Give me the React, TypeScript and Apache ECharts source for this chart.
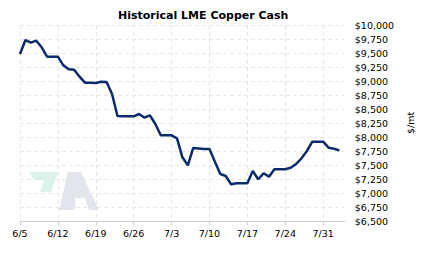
import React, { useEffect, useRef } from "react";
import * as echarts from "echarts";

const dates: string[] = [
  "6/5", "6/6", "6/7", "6/8", "6/9", "6/10", "6/11",
  "6/12", "6/13", "6/14", "6/15", "6/16", "6/17", "6/18",
  "6/19", "6/20", "6/21", "6/22", "6/23", "6/24", "6/25",
  "6/26", "6/27", "6/28", "6/29", "6/30", "7/1", "7/2",
  "7/3", "7/4", "7/5", "7/6", "7/7", "7/8", "7/9",
  "7/10", "7/11", "7/12", "7/13", "7/14", "7/15", "7/16",
  "7/17", "7/18", "7/19", "7/20", "7/21", "7/22", "7/23",
  "7/24", "7/25", "7/26", "7/27", "7/28", "7/29", "7/30",
  "7/31", "8/1", "8/2", "8/3", "8/4",
];

const cashPrice: (number | null)[] = [
  9480, 9732, 9684, 9720, 9602, 9434, 9434,
  9434, 9280, 9208, 9202, 9077, 8970, 8967,
  8964, 8988, 8982, 8768, 8375, 8372, 8371,
  8370, 8411, 8345, 8387, 8232, 8030, 8030,
  8030, 7976, 7637, 7495, 7804, 7795, 7786,
  7786, 7560, 7339, 7304, 7155, 7173, 7173,
  7173, 7393, 7245, 7352, 7292, 7423, 7423,
  7423, 7452, 7518, 7620, 7750, 7916, 7916,
  7916, 7809, 7791, 7762, null,
];

const yMin = 6500;
const yMax = 10000;
const yStep = 250;

const fmtUsd = (v: number) => "$" + v.toLocaleString("en-US");

export default function App() {
  const ref = useRef<HTMLDivElement>(null);
  useEffect(() => {
    if (!ref.current) return;
    const chart = echarts.init(ref.current, null, { renderer: "svg" });
    const font = "DejaVu Sans, Verdana, sans-serif";
    chart.setOption({
      animation: false,
      backgroundColor: "#ffffff",
      title: {
        text: "Historical LME Copper Cash",
        left: 113,
        top: 5,
        textStyle: { fontFamily: font, fontSize: 11, fontWeight: "bold", color: "#000" },
      },
      grid: { left: 20, right: 68, top: 25, bottom: 36, containLabel: false },
      graphic: [
        {
          type: "polygon",
          z: 0,
          silent: true,
          shape: { points: [[29, 172], [58, 172], [51, 192], [40, 192], [44, 180], [34, 180]] },
          style: { fill: "#d9f3ea" },
        },
        {
          type: "polygon",
          z: 0,
          silent: true,
          shape: { points: [[59, 210], [68, 172], [81, 172], [99, 210], [89, 210], [85, 198], [75, 198], [75, 210]] },
          style: { fill: "#e2e5eb" },
        },
      ],
      xAxis: {
        type: "category",
        data: dates,
        boundaryGap: false,
        axisLine: { show: true, lineStyle: { color: "#cccccc" } },
        axisTick: { show: true, interval: 6, length: 4, lineStyle: { color: "#cccccc" } },
        axisLabel: { interval: 6, margin: 7, fontFamily: font, fontSize: 9.5, color: "#000" },
        splitLine: { show: true, interval: 6, lineStyle: { color: "#e6e6e6", type: [4, 3] } },
      },
      yAxis: {
        type: "value",
        position: "right",
        min: yMin,
        max: yMax,
        interval: yStep,
        name: "$/mt",
        nameLocation: "middle",
        nameRotate: 90,
        nameGap: 52,
        nameTextStyle: { fontFamily: font, fontSize: 9.5, color: "#000" },
        axisLine: { show: false },
        axisTick: { show: false },
        axisLabel: { margin: 10, fontFamily: font, fontSize: 9.5, color: "#000", formatter: (v: number) => fmtUsd(v) },
        splitLine: { show: true, lineStyle: { color: "#e6e6e6", type: [4, 3] } },
      },
      series: [
        {
          type: "line",
          data: cashPrice,
          symbol: "none",
          z: 5,
          lineStyle: { color: "#0c2b6b", width: 2.5 },
        },
      ],
    });
    return () => chart.dispose();
  }, []);
  return (
    <div
      ref={ref}
      style={{ position: "fixed", left: 0, top: 0, width: 423, height: 257 }}
    />
  );
}
